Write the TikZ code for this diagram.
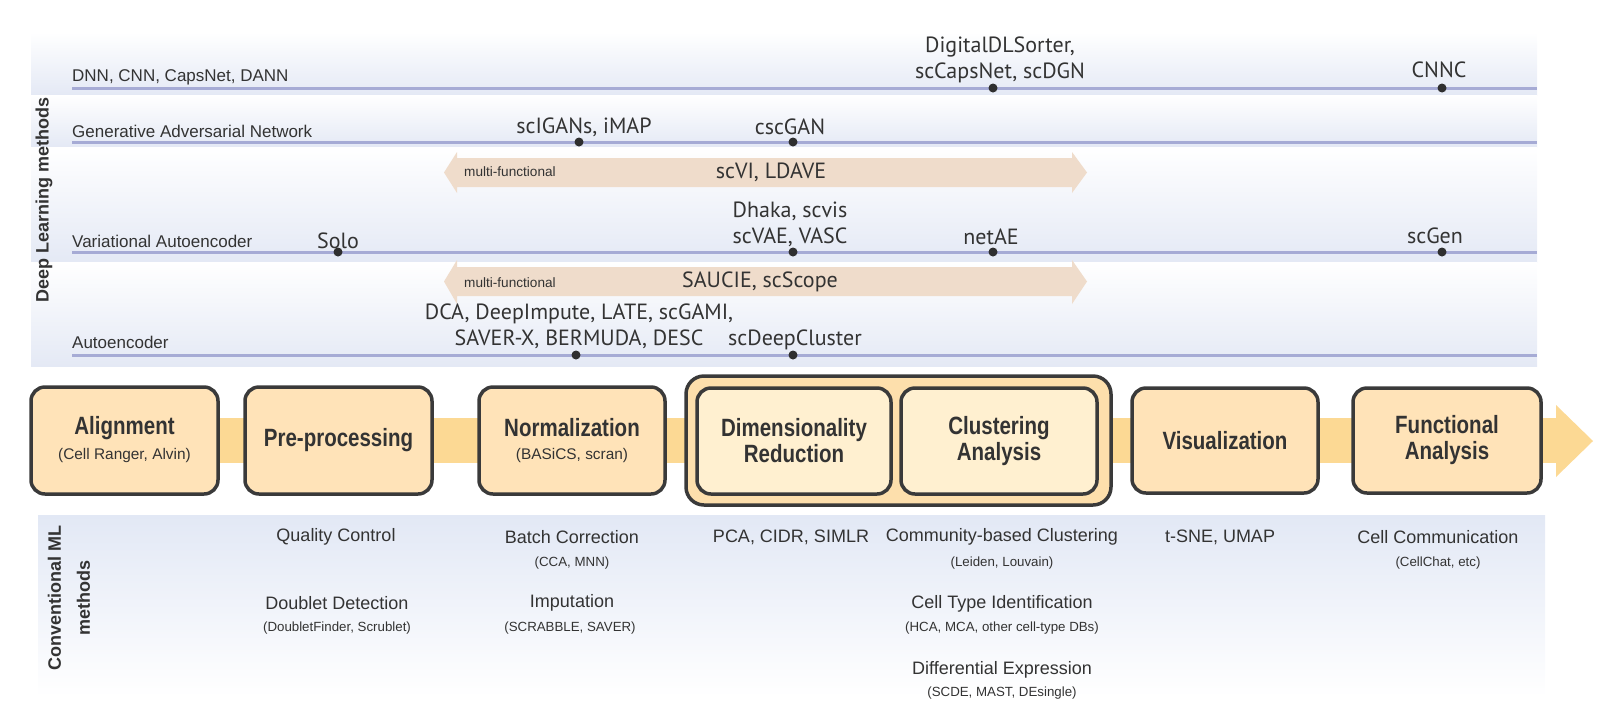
\documentclass[tikz,border=0pt]{standalone}
\usepackage{fontspec}
\setmainfont{Liberation Sans}
\newfontfamily\condf[FakeStretch=0.82]{Liberation Sans}
\newfontfamily\myr{PT Sans}
\usetikzlibrary{positioning}
\definecolor{txt}{HTML}{333333}
\definecolor{bandblue}{HTML}{E4E9F5}
\definecolor{linec}{HTML}{A6ABD5}
\definecolor{dotc}{HTML}{2F2F2F}
\definecolor{multic}{HTML}{EFDCCB}
\definecolor{pipec}{HTML}{FCD994}
\definecolor{boxfill}{HTML}{FFE3B8}
\definecolor{groupfill}{HTML}{FDDFAC}
\definecolor{innerfill}{HTML}{FFF0D0}
\definecolor{boxline}{HTML}{3A3A3A}
\definecolor{mlblue}{HTML}{E2E8F5}
\begin{document}
\begin{tikzpicture}[x=1pt,y=-1pt,
  rowlab/.style={anchor=west,inner sep=0pt,text=txt,font=\fontsize{17}{20}\selectfont},
  meth/.style={inner sep=0pt,text=txt,align=center,font=\myr\fontsize{22}{26}\selectfont},
  mdot/.style={circle,fill=dotc,inner sep=0pt,minimum size=9pt},
  multilab/.style={anchor=west,inner sep=0pt,text=txt,font=\fontsize{13.6}{16}\selectfont},
  stagebox/.style={draw=boxline,line width=3.5pt,rounded corners=14pt,fill=boxfill,
     minimum height=107pt,align=center,text=txt,inner sep=0pt,
     font=\condf\bfseries\fontsize{25}{26}\selectfont},
  subl/.style={text=txt,inner sep=0pt,font=\fontsize{15.4}{18}\selectfont},
  mlhead/.style={text=txt,inner sep=0pt,font=\fontsize{18}{21}\selectfont},
  mlsub/.style={text=txt,inner sep=0pt,font=\fontsize{13.3}{16}\selectfont},
  sidelab/.style={text=txt,inner sep=0pt,rotate=90,align=center,font=\bfseries\fontsize{18}{29}\selectfont},
  dlline/.style={draw=linec,line width=3pt}
]
\useasboundingbox (0,0) rectangle (1606,716);
% ---------- Deep learning bands ----------
\shade[top color=white,bottom color=bandblue] (31,32) rectangle (1537,95);
\shade[top color=white,bottom color=bandblue] (31,95) rectangle (1537,147);
\shade[top color=white,bottom color=bandblue] (31,147) rectangle (1537,262);
\shade[top color=white,bottom color=bandblue] (31,262) rectangle (1537,366);
\node[sidelab] (dlside) at (44,200) {Deep Learning methods};
% rows
\coordinate (r1a) at (72,88);  \coordinate (r1b) at (1537,88);
\coordinate (r2a) at (72,142); \coordinate (r2b) at (1537,142);
\coordinate (r3a) at (72,252); \coordinate (r3b) at (1537,252);
\coordinate (r4a) at (72,355); \coordinate (r4b) at (1537,355);
\draw[dlline] (r1a) -- (r1b);
\draw[dlline] (r2a) -- (r2b);
\draw[dlline] (r3a) -- (r3b);
\draw[dlline] (r4a) -- (r4b);
\node[rowlab] (lab1) at (72,77) {DNN, CNN, CapsNet, DANN};
\node[rowlab] (lab2) at (72,131) {Generative Adversarial Network};
\node[rowlab] (lab3) at (72,241) {Variational Autoencoder};
\node[rowlab] (lab4) at (72,342) {Autoencoder};
% multi-functional arrows
\fill[multic] (444,172.5) -- (457,152) -- (457,158) -- (1072,158) -- (1072,152) -- (1087,172.5)
   -- (1072,193) -- (1072,187) -- (457,187) -- (457,193) -- cycle;
\fill[multic] (444,281.5) -- (457,260) -- (457,267) -- (1072,267) -- (1072,260) -- (1087,281.5)
   -- (1072,304) -- (1072,296) -- (457,296) -- (457,304) -- cycle;
\node[multilab] (mf1) at (464,172) {multi-functional};
\node[multilab] (mf2) at (464,283) {multi-functional};
\node[meth] (scvi) at (771,172) {scVI, LDAVE};
\node[meth] (saucie) at (760,282) {SAUCIE, scScope};
% dots
\node[mdot] (d1) at (993,88) {};
\node[mdot] (d2) at (1442,88) {};
\node[mdot] (d3) at (579,142) {};
\node[mdot] (d4) at (793,142) {};
\node[mdot] (d5) at (338,252) {};
\node[mdot] (d6) at (793,252) {};
\node[mdot] (d7) at (993,252) {};
\node[mdot] (d8) at (1442,252) {};
\node[mdot] (d9) at (576,355) {};
\node[mdot] (d10) at (793,355) {};
% method labels
\node[meth] (m1) at (1000,60) {DigitalDLSorter,\\scCapsNet, scDGN};
\node[meth] (m2) at (1439,70) {CNNC};
\node[meth] (m3) at (584,127) {scIGANs, iMAP};
\node[meth] (m4) at (790,127) {cscGAN};
\node[meth] (m5) at (338,241) {Solo};
\node[meth] (m6) at (790,224.5) {Dhaka, scvis\\scVAE, VASC};
\node[meth] (m7) at (991,237) {netAE};
\node[meth] (m8) at (1435,236) {scGen};
\node[meth] (m9) at (579,326.5) {DCA, DeepImpute, LATE, scGAMI,\\SAVER-X, BERMUDA, DESC};
\node[meth] (m10) at (795,340) {scDeepCluster};
% ---------- pipeline ----------
\fill[pipec] (100,418) rectangle (1557,463);
\fill[pipec] (1556,405) -- (1593,441) -- (1556,477) -- cycle;
\node[stagebox,minimum width=187pt] (align) at (124.5,440.5) {};
\node[text=txt,inner sep=0pt,font=\condf\bfseries\fontsize{25}{26}\selectfont] (alignt) at (124.5,428) {Alignment};
\node[subl] (aligns) at (124.5,456) {(Cell Ranger, Alvin)};
\node[stagebox,minimum width=187pt] (prep) at (338.5,440.5) {Pre-processing};
\node[stagebox,minimum width=186pt] (norm) at (572,440.5) {};
\node[text=txt,inner sep=0pt,font=\condf\bfseries\fontsize{25}{26}\selectfont] (normt) at (572,428) {Normalization};
\node[subl] (norms) at (572,456) {(BASiCS, scran)};
\node[stagebox,minimum width=425pt,minimum height=129pt,rounded corners=18pt,fill=groupfill] (group) at (898.5,440.5) {};
\node[stagebox,minimum width=194pt,minimum height=106pt,fill=innerfill] (dim) at (794,441) {Dimensionality\\Reduction};
\node[stagebox,minimum width=196pt,minimum height=106pt,fill=innerfill] (clus) at (999,441) {Clustering\\Analysis};
\node[stagebox,minimum width=186pt,minimum height=105pt] (vis) at (1225,440.5) {Visualization};
\node[stagebox,minimum width=188pt,minimum height=105pt] (func) at (1447,440.5) {Functional\\Analysis};
% ---------- conventional ML ----------
\shade[top color=mlblue,bottom color=white] (38,515) rectangle (1545,697);
\node[sidelab] (mlside) at (69,598) {Conventional ML\\methods};
\node[mlhead] (qc) at (336,537) {Quality Control};
\node[mlhead] (dd) at (337,603) {Doublet Detection};
\node[mlsub] (dds) at (337,628) {(DoubletFinder, Scrublet)};
\node[mlhead] (bc) at (572,537) {Batch Correction};
\node[mlsub] (bcs) at (572,563) {(CCA, MNN)};
\node[mlhead] (imp) at (572,603) {Imputation};
\node[mlsub] (imps) at (570,628) {(SCRABBLE, SAVER)};
\node[mlhead] (pca) at (791,537) {PCA, CIDR, SIMLR};
\node[mlhead] (comm) at (1002,537) {Community-based Clustering};
\node[mlsub] (comms) at (1002,563) {(Leiden, Louvain)};
\node[mlhead] (cti) at (1002,604) {Cell Type Identification};
\node[mlsub] (ctis) at (1002,628) {(HCA, MCA, other cell-type DBs)};
\node[mlhead] (de) at (1002,670) {Differential Expression};
\node[mlsub] (des) at (1002,693) {(SCDE, MAST, DEsingle)};
\node[mlhead] (tsne) at (1220,537) {t-SNE, UMAP};
\node[mlhead] (cc) at (1438,537) {Cell Communication};
\node[mlsub] (ccs) at (1438,563) {(CellChat, etc)};
\end{tikzpicture}
\end{document}
